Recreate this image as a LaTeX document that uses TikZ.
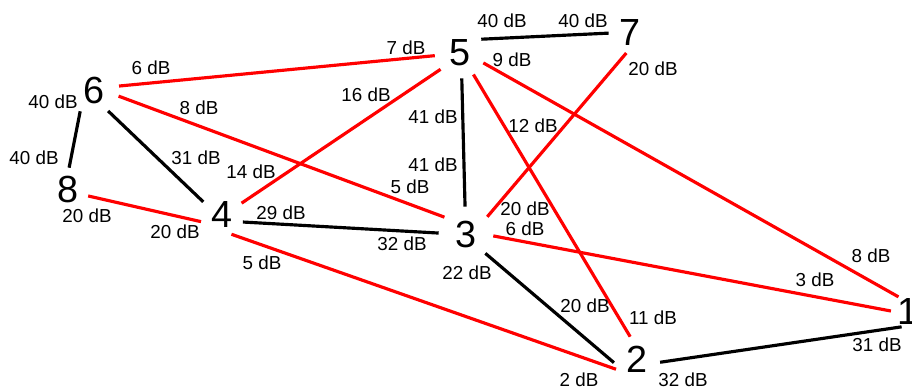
\documentclass[tikz,border=0pt]{standalone}
\usepackage{fontspec}
\setmainfont{Liberation Sans}
\begin{document}
\begin{tikzpicture}[x=0.02cm,y=-0.02cm,
  vtx/.style={circle,inner sep=0pt,minimum size=1cm,font=\fontsize{21.5}{24}\selectfont},
  lbl/.style={inner sep=0pt,font=\fontsize{10.7}{12}\selectfont},
  link/.style={line width=1.8pt},
  weak/.style={link,red}]
  \useasboundingbox (0,0) rectangle (912,387);
  \node[vtx,minimum size=0.64cm] (n1) at (908,311) {1};
  \node[vtx,minimum size=0.92cm] (n2) at (637,359) {2};
  \node[vtx,minimum size=1.08cm] (n3) at (466,234) {3};
  \node[vtx,minimum size=0.88cm] (n4) at (222,214) {4};
  \node[vtx] (n5) at (460,53) {5};
  \node[vtx] (n6) at (94,90) {6};
  \node[vtx,minimum size=0.84cm] (n7) at (630,32) {7};
  \node[vtx,minimum size=0.84cm] (n8) at (68,189) {8};
  \draw[link] (n5.33) -- (n7.183);
  \draw[weak] (n6.9) -- (n5.186);
  \draw[link] (n6.237) -- (n8.87);
  \draw[link] (n6.304) -- (n4.147);
  \draw[weak] (n6.346) -- (n3.142);
  \draw[weak] (n4.29) -- (n5.220);
  \draw[weak] (n8.341) -- (n4.200);
  \draw[link] (n4.339) -- (n3.178);
  \draw[weak] (n4.295) -- (n2.206);
  \draw[link] (n5.274) -- (n3.92);
  \draw[weak] (n5.302) -- (n2.107);
  \draw[weak] (n5.337) -- (n1.124);
  \draw[weak] (n7.260) -- (n3.39);
  \draw[weak] (n3.356) -- (n1.180);
  \draw[link] (n3.315) -- (n2.189);
  \draw[link] (n2.352) -- (n1.248);
  \node[lbl] (l57) at (502,21) {40 dB};
  \node[lbl] (l75) at (583,21) {40 dB};
  \node[lbl] (l51) at (512,60) {9 dB};
  \node[lbl] (l73) at (653,69) {20 dB};
  \node[lbl] (l52) at (533,126) {12 dB};
  \node[lbl] (l56) at (406,48) {7 dB};
  \node[lbl] (l65) at (151,68) {6 dB};
  \node[lbl] (l68) at (53,102) {40 dB};
  \node[lbl] (l54) at (366,95) {16 dB};
  \node[lbl] (l63) at (199,108) {8 dB};
  \node[lbl] (l53) at (433,117) {41 dB};
  \node[lbl] (l86) at (34,158) {40 dB};
  \node[lbl] (l64) at (196,158) {31 dB};
  \node[lbl] (l45) at (251,172) {14 dB};
  \node[lbl] (l35) at (433,165) {41 dB};
  \node[lbl] (l36) at (410,187) {5 dB};
  \node[lbl] (l84) at (87,216) {20 dB};
  \node[lbl] (l48) at (175,232) {20 dB};
  \node[lbl] (l43) at (281,213) {29 dB};
  \node[lbl] (l34) at (402,244) {32 dB};
  \node[lbl] (l42) at (262,263) {5 dB};
  \node[lbl] (l32) at (467,273) {22 dB};
  \node[lbl] (l37) at (525,209) {20 dB};
  \node[lbl] (l31) at (525,229) {6 dB};
  \node[lbl] (l15) at (871,256) {8 dB};
  \node[lbl] (l13) at (815,280) {3 dB};
  \node[lbl] (l23) at (585,306) {20 dB};
  \node[lbl] (l25) at (653,318) {11 dB};
  \node[lbl] (l12) at (877,345) {31 dB};
  \node[lbl] (l24) at (579,380) {2 dB};
  \node[lbl] (l21) at (683,380) {32 dB};
\end{tikzpicture}
\end{document}
